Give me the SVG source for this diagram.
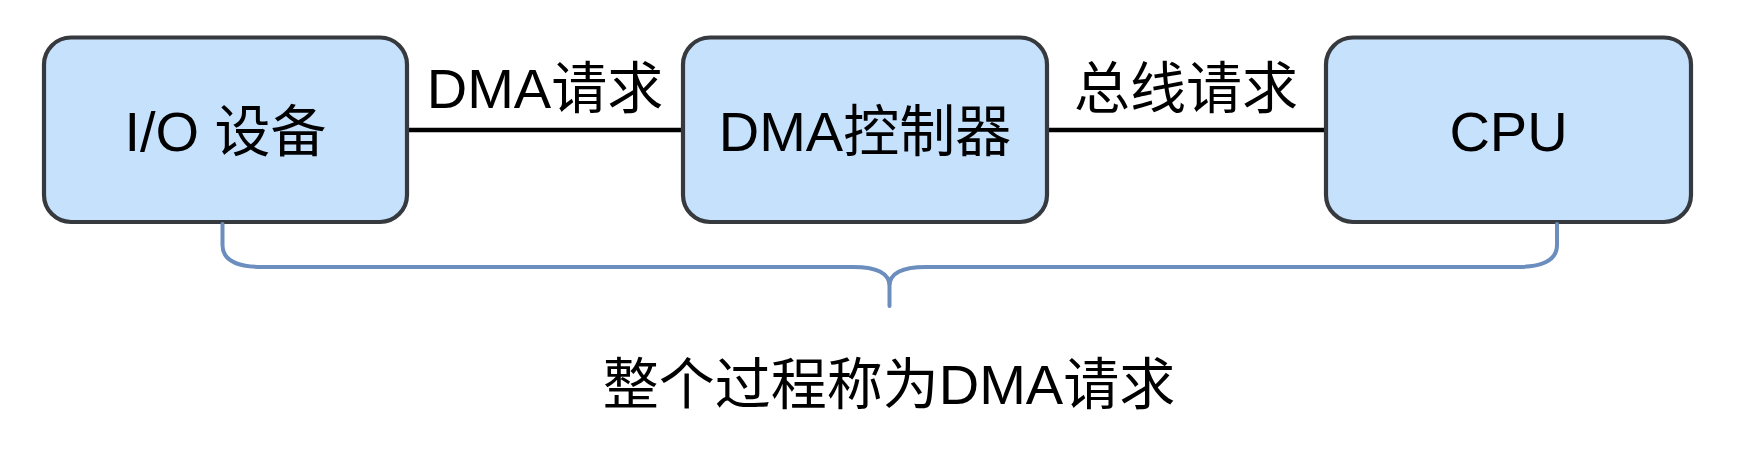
<svg xmlns="http://www.w3.org/2000/svg" width="1740" height="458" viewBox="0 0 1740 458">
  <style>
    .box { fill: #c6e1fc; stroke: #36393d; stroke-width: 4.2; }
    .t { font-family: "Liberation Sans", "Noto Sans CJK SC", sans-serif; font-size: 56px; fill: #000000; text-anchor: middle; }
    .link { stroke: #000000; stroke-width: 4.6; fill: none; }
    .brace { stroke: #6c8ebf; stroke-width: 4; fill: none; stroke-linecap: round; }
  </style>
  <rect width="1740" height="458" fill="#ffffff"/>
  <g id="connectors">
    <line class="link" x1="407" y1="130" x2="683" y2="130"/>
    <line class="link" x1="1047" y1="130" x2="1326" y2="130"/>
    <text class="t" x="545" y="107.5">DMA请求</text>
    <text class="t" x="1186" y="107.5">总线请求</text>
  </g>
  <g id="node-io">
    <rect class="box" x="44" y="37.5" width="363" height="184.5" rx="27" ry="27"/>
    <text class="t" x="225.5" y="150.5">I/O 设备</text>
  </g>
  <g id="node-dma">
    <rect class="box" x="683" y="37.5" width="364" height="184.5" rx="27" ry="27"/>
    <text class="t" x="865" y="150.5">DMA控制器</text>
  </g>
  <g id="node-cpu">
    <rect class="box" x="1326" y="37.5" width="365" height="184.5" rx="27" ry="27"/>
    <text class="t" x="1508.5" y="150.5">CPU</text>
  </g>
  <g id="brace">
    <path class="brace" d="M222.5,224 L222.5,245 C222.5,260 236,267 262,267 L853,267 C876,267 889.5,272 889.5,286 L889.5,306 M889.5,286 C889.5,272 903,267 926,267 L1517,267 C1543,267 1557,260 1557,245 L1557,224"/>
  </g>
  <g id="caption">
    <text class="t" x="889" y="404">整个过程称为DMA请求</text>
  </g>
</svg>
